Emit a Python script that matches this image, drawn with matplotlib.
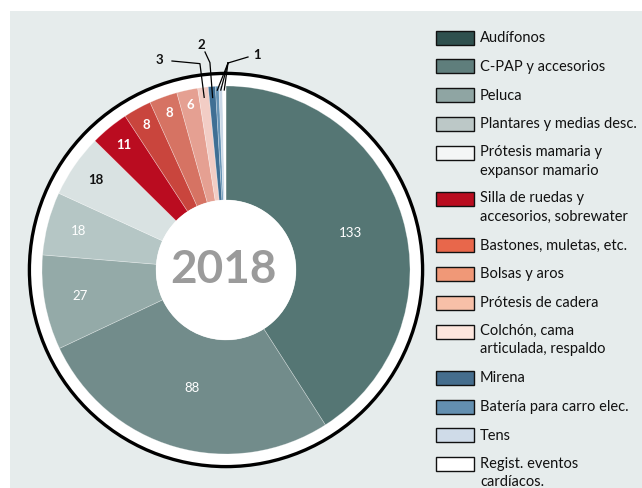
import numpy as np
import matplotlib
matplotlib.use("Agg")
import matplotlib.pyplot as plt
from matplotlib.patches import Rectangle, Circle

plt.rcParams['font.family'] = ['Lato', 'DejaVu Sans']

# ---------------- data ----------------
categories = ["Audífonos", "C-PAP y accesorios", "Peluca", "Plantares y medias desc.",
              "Prótesis mamaria y\nexpansor mamario", "Silla de ruedas y\naccesorios, sobrewater",
              "Bastones, muletas, etc.", "Bolsas y aros", "Prótesis de cadera",
              "Colchón, cama\narticulada, respaldo", "Mirena", "Batería para carro elec.",
              "Tens", "Regist. eventos\ncardíacos."]
values = [133, 88, 27, 18, 18, 11, 8, 8, 6, 3, 2, 1, 1, 1]
center_label = "2018"

# ---------------- styles ----------------
wedge_colors = ["#557674", "#728c8b", "#94aaa8", "#b5c6c5", "#d9e2e2", "#ba0c20",
                "#c9453d", "#d67363", "#e5a092", "#f2cdc5", "#3f6f94", "#6593b5",
                "#c9d7e6", "#ffffff"]
legend_colors = ["#2f504e", "#5f7e7c", "#8fa5a3", "#bcc8c7", "#f4f6f6", "#b90c1f",
                 "#e8674b", "#f09877", "#f7c0a8", "#fde6dd", "#456d8d", "#638fb0",
                 "#cfdbe8", "#ffffff"]
label_radius = [0.65, 0.615, 0.74, 0.76, 0.79, 0.81, 0.825, 0.835, 0.845]
label_color = ["white", "white", "white", "white", "#111111", "white", "white", "white", "white"]
label_weight = ["normal", "normal", "normal", "normal", "bold", "bold", "bold", "bold", "bold"]
panel_color = "#e6ecec"

W, H = 642, 488
fig = plt.figure(figsize=(W / 100, H / 100), dpi=100)
fig.patch.set_facecolor("white")

# background panel axes (pixel coordinates)
bax = fig.add_axes([0, 0, 1, 1], zorder=-5)
bax.set_xlim(0, W)
bax.set_ylim(H, 0)
bax.axis("off")
bax.add_patch(Rectangle((10, 11), W, H, facecolor=panel_color, edgecolor="none"))

# pie axes: center at (226, 270) px from top, 1 data unit = 200 px
cx, cy, R = 226, 270, 200
ax = fig.add_axes([(cx - R) / W, (H - cy - R) / H, 2 * R / W, 2 * R / H], zorder=1)
ax.set_xlim(-1, 1)
ax.set_ylim(-1, 1)
ax.set_aspect("equal")
ax.axis("off")
ax.patch.set_alpha(0)

outer, inner = 0.92, 0.35
ax.add_patch(Circle((0, 0), 0.983, facecolor="white", edgecolor="black", linewidth=2.4, zorder=1))
wedges, _ = ax.pie(values, colors=wedge_colors, startangle=90, counterclock=False,
                   radius=outer, wedgeprops=dict(width=outer - inner,
                                                 edgecolor=(1, 1, 1, 0.35), linewidth=0.5))
for w in wedges:
    w.set_zorder(2)
ax.add_patch(Circle((0, 0), inner, facecolor="white", edgecolor="none", zorder=3))
ax.set_xlim(-1, 1)
ax.set_ylim(-1, 1)

ax.text(-0.015, 0.0, center_label, ha="center", va="center", fontsize=33,
        fontweight="bold", color="#9b9b9b", zorder=4)

total = sum(values)
cum = np.cumsum([0] + values)
mid_angles = [np.deg2rad(90 - (cum[i] + values[i] / 2) / total * 360) for i in range(len(values))]

for i, r in enumerate(label_radius):
    a = mid_angles[i]
    ax.text(r * np.cos(a), r * np.sin(a), str(values[i]), ha="center", va="center",
            fontsize=9.5, color=label_color[i], fontweight=label_weight[i], zorder=5)

def pt(a, r):
    return r * np.cos(a), r * np.sin(a)

# "3" -> Colchón
a = mid_angles[9]
p0, p1 = pt(a, 0.87), pt(a, 1.04)
ax.plot([p0[0], p1[0], -0.27], [p0[1], p1[1], 1.045], color="black", lw=0.9, clip_on=False, zorder=6)
ax.text(-0.335, 1.05, str(values[9]), ha="center", va="center", fontsize=9.5,
        fontweight="bold", color="#111111")
# "2" -> Mirena
a = mid_angles[10]
p0, p1 = pt(a, 0.865), pt(a, 1.04)
ax.plot([p0[0], p1[0], -0.105], [p0[1], p1[1], 1.09], color="black", lw=0.9, clip_on=False, zorder=6)
ax.text(-0.125, 1.125, str(values[10]), ha="center", va="center", fontsize=9.5,
        fontweight="bold", color="#111111")
# "1" -> Batería, Tens, Regist
elbow = (0.01, 1.035)
for k in (11, 12, 13):
    p0 = pt(mid_angles[k], 0.9)
    ax.plot([p0[0], elbow[0]], [p0[1], elbow[1]], color="black", lw=0.9, clip_on=False, zorder=6)
ax.plot([elbow[0], 0.11], [elbow[1], 1.065], color="black", lw=0.9, clip_on=False, zorder=6)
ax.text(0.155, 1.075, str(values[11]), ha="center", va="center", fontsize=9.5,
        fontweight="bold", color="#111111")

# legend drawn in pixel coordinates
lax = fig.add_axes([0, 0, 1, 1], zorder=2)
lax.set_xlim(0, W)
lax.set_ylim(H, 0)
lax.axis("off")
lax.patch.set_alpha(0)
y = 37.5
line_step = 17.4
for lab, col in zip(categories, legend_colors):
    lax.add_patch(Rectangle((435.5, y - 7), 38, 14, facecolor=col, edgecolor="#111111", linewidth=1.0))
    n = lab.count("\n")
    # matplotlib aligns the last line's baseline for multi-line text
    lax.text(480, y + 4.5 + line_step * n, lab, ha="left", va="baseline", fontsize=10.5,
             color="#111111", linespacing=1.4)
    y += 28.8 + line_step * n

fig.savefig("out.png", dpi=100, facecolor=fig.get_facecolor())
